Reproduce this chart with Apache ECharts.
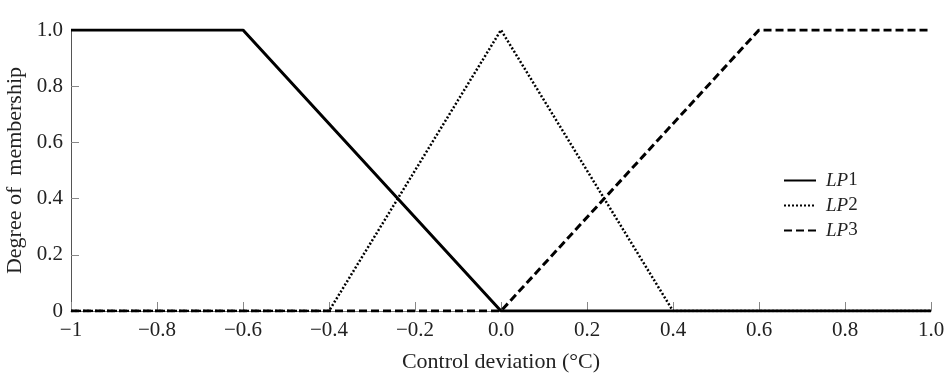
<!DOCTYPE html>
<html>
<head>
<meta charset="utf-8">
<script src="https://cdn.jsdelivr.net/npm/echarts@6/dist/echarts.min.js"></script>
<style>
  html, body { margin: 0; padding: 0; background: #fff; }
  #chart { width: 950px; height: 379px; }
</style>
</head>
<body>
<div id="chart"></div>
<script>
// breakpoints of the three membership functions
const lp1X = [-1, -0.6, 0, 1];
const lp1Y = [1, 1, 0, 0];
const lp2X = [-1, -0.4, 0, 0.4, 1];
const lp2Y = [0, 0, 1, 0, 0];
const lp3X = [-1, 0, 0.6, 1];
const lp3Y = [0, 0, 1, 1];

const xTickValues = [-1, -0.8, -0.6, -0.4, -0.2, 0, 0.2, 0.4, 0.6, 0.8, 1];
const xTickLabels = ['\u22121', '\u22120.8', '\u22120.6', '\u22120.4', '\u22120.2', '0.0', '0.2', '0.4', '0.6', '0.8', '1.0'];
const yTickValues = [0, 0.2, 0.4, 0.6, 0.8, 1];
const yTickLabels = ['0', '0.2', '0.4', '0.6', '0.8', '1.0'];

const seriesNames = ['LP1', 'LP2', 'LP3'];

function pairs(xs, ys) {
  return xs.map(function (x, i) { return [x, ys[i]]; });
}

function lookup(values, labels, v) {
  for (var i = 0; i < values.length; i++) {
    if (Math.abs(values[i] - v) < 1e-6) return labels[i];
  }
  return '';
}

const font = 'Liberation Serif';
const chart = echarts.init(document.getElementById('chart'));

const option = {
  animation: false,
  color: ['#000', '#000', '#000'],
  grid: {
    left: 71,
    right: 19,
    top: 30,
    bottom: 68,
    outerBoundsMode: 'none'
  },
  legend: {
    orient: 'vertical',
    left: 778,
    top: 166,
    itemWidth: 32,
    itemHeight: 16,
    itemGap: 6,
    itemStyle: { opacity: 0 },
    data: seriesNames,
    formatter: function (name) {
      return '{i|LP}{n|' + name.slice(2) + '}';
    },
    textStyle: {
      padding: [0, 0, 0, 5],
      rich: {
        i: { fontFamily: font, fontStyle: 'italic', fontSize: 19, color: '#222', lineHeight: 16 },
        n: { fontFamily: font, fontSize: 19, color: '#222', lineHeight: 16 }
      }
    }
  },
  xAxis: {
    type: 'value',
    min: -1,
    max: 1,
    interval: 0.2,
    name: 'Control deviation (°C)',
    nameLocation: 'middle',
    nameGap: 40,
    nameTextStyle: { fontFamily: font, fontSize: 22, color: '#222' },
    axisLine: { show: true, onZero: false, lineStyle: { color: '#777', width: 1 } },
    axisTick: { show: true, inside: true, length: 9, lineStyle: { color: '#888' } },
    splitLine: { show: false },
    axisLabel: {
      margin: 9,
      fontFamily: font,
      fontSize: 21,
      color: '#222',
      formatter: function (v) { return lookup(xTickValues, xTickLabels, v); }
    }
  },
  yAxis: {
    type: 'value',
    min: 0,
    max: 1,
    interval: 0.2,
    name: 'Degree of  membership',
    nameLocation: 'middle',
    nameGap: 41,
    nameTextStyle: { fontFamily: font, fontSize: 22, color: '#222' },
    axisLine: { show: true, onZero: false, lineStyle: { color: '#555', width: 1 } },
    axisTick: { show: true, inside: true, length: 8, lineStyle: { color: '#888' } },
    splitLine: { show: false },
    axisLabel: {
      margin: 8,
      fontFamily: font,
      fontSize: 21,
      color: '#222',
      formatter: function (v) { return lookup(yTickValues, yTickLabels, v); }
    }
  },
  series: [
    {
      name: 'LP2',
      type: 'line',
      symbol: 'none',
      z: 2,
      data: pairs(lp2X, lp2Y),
      lineStyle: { color: '#000', width: 2.5, type: [2, 2] }
    },
    {
      name: 'LP3',
      type: 'line',
      symbol: 'none',
      z: 3,
      data: pairs(lp3X, lp3Y),
      lineStyle: { color: '#000', width: 3, type: [8, 4] }
    },
    {
      name: 'LP1',
      type: 'line',
      symbol: 'none',
      z: 4,
      data: pairs(lp1X, lp1Y),
      lineStyle: { color: '#000', width: 3, type: 'solid' }
    }
  ]
};

chart.setOption(option);
</script>
</body>
</html>
